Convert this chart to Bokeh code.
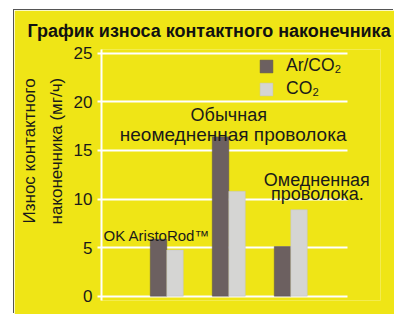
from bokeh.plotting import figure
from bokeh.models import Label, FixedTicker, Legend, LegendItem, Range1d, Title, Grid
from bokeh.models import ColumnDataSource
from bokeh.transform import dodge
from bokeh.embed import file_html
from bokeh.resources import INLINE

# ---- data ----
groups = [1, 2, 3]
group_names = ["OK AristoRod™", "Обычная неомедненная проволока", "Омедненная проволока."]
ar_co2 = [5.85, 16.4, 5.1]
co2 = [4.75, 10.8, 8.9]
y_ticks = [0, 5, 10, 15, 20, 25]

title_text = "График износа контактного наконечника"
y_label_lines = ["Износ контактного", "наконечника (мг/ч)"]

YELLOW = "#EFE516"
DARK = "#6C6060"
LIGHT = "#D5D5D3"
FONT = "Liberation Sans"
TXT = "#1a1a1a"

has_cb = "cross_bounds" in Grid.properties()

x0, grid_end = -0.053, 3.915
x1 = 4.447 if has_cb else grid_end
right_border = 14 if has_cb else 47

src = ColumnDataSource(dict(x=groups, ar=ar_co2, co2=co2))

p = figure(width=380, height=304, output_backend="svg", toolbar_location=None,
           x_range=Range1d(x0, x1), y_range=Range1d(-0.45, 25.4),
           min_border_left=87, min_border_right=right_border, min_border_top=37, min_border_bottom=14,
           background_fill_color=YELLOW, border_fill_color=YELLOW,
           margin=(10, 0, 0, 14),
           styles={"box-shadow": "-1px -1px 0 0 #555555"})
p.outline_line_color = None

bw = 0.266
r1 = p.vbar(x=dodge("x", -bw / 2, range=p.x_range), top="ar", bottom=0, width=bw, source=src,
            fill_color=DARK, line_color="#5a5050", line_width=0.5)
r2 = p.vbar(x=dodge("x", bw / 2, range=p.x_range), top="co2", bottom=0, width=bw, source=src,
            fill_color=LIGHT, line_color="#c4c4c2", line_width=0.5)

p.xaxis.visible = False
p.xgrid.visible = False
p.ygrid.grid_line_color = "white"
p.ygrid.grid_line_width = 2
if has_cb:
    p.ygrid.cross_bounds = (x0, grid_end)
p.yaxis.ticker = FixedTicker(ticks=y_ticks)
p.yaxis.minor_tick_line_color = None
p.yaxis.axis_line_color = "white"
p.yaxis.axis_line_width = 2
p.yaxis.major_tick_line_color = "white"
p.yaxis.major_tick_line_width = 2
p.yaxis.major_tick_out = 4
p.yaxis.major_tick_in = 0
p.yaxis.major_label_standoff = 5
p.yaxis.major_label_text_font = FONT
p.yaxis.major_label_text_font_size = "17px"
p.yaxis.major_label_text_color = TXT

legend = Legend(items=[LegendItem(label="Ar/CO₂", renderers=[r1]),
                       LegendItem(label="CO₂", renderers=[r2])],
                location=(157, 201), orientation="vertical",
                glyph_width=16, glyph_height=16, label_standoff=12,
                label_height=20, spacing=2, padding=0, margin=0,
                label_text_font=FONT, label_text_font_size="17.5px", label_text_color=TXT,
                background_fill_alpha=0, border_line_color=None)
p.add_layout(legend)

# chart title
p.title.text = title_text
p.title.align = "left"
p.title.offset = -74
p.title.standoff = 17
p.title.text_font = FONT
p.title.text_font_size = "18px"
p.title.text_font_style = "bold"
p.title.text_color = "#111111"

# two-line y axis title, placed in the left panel
t2 = Title(text=y_label_lines[1], align="left", offset=76, standoff=10,
           text_font=FONT, text_font_size="17px", text_font_style="normal", text_color=TXT)
t1 = Title(text=y_label_lines[0], align="left", offset=77, standoff=1,
           text_font=FONT, text_font_size="17px", text_font_style="normal", text_color=TXT)
p.add_layout(t2, "left")
p.add_layout(t1, "left")

# group annotations in data units
ann = dict(text_font=FONT, text_color=TXT, text_baseline="alphabetic")
p.add_layout(Label(x=-0.02, y=6.2, text=group_names[0], text_font_size="15px",
                   text_align="left", **ann))
p.add_layout(Label(x=2.0, y=18.66, text="Обычная", text_font_size="18px",
                   text_align="center", **ann))
p.add_layout(Label(x=2.07, y=16.6, text="неомедненная проволока", text_font_size="19px",
                   text_align="center", **ann))
ox = 3.42 if has_cb else 3.03
p.add_layout(Label(x=ox, y=12.0, text="Омедненная", text_font_size="18px",
                   text_align="center", **ann))
p.add_layout(Label(x=ox + 0.01, y=10.5, text="проволока.", text_font_size="18px",
                   text_align="center", **ann))

open("out.html", "w").write(file_html(p, INLINE))
